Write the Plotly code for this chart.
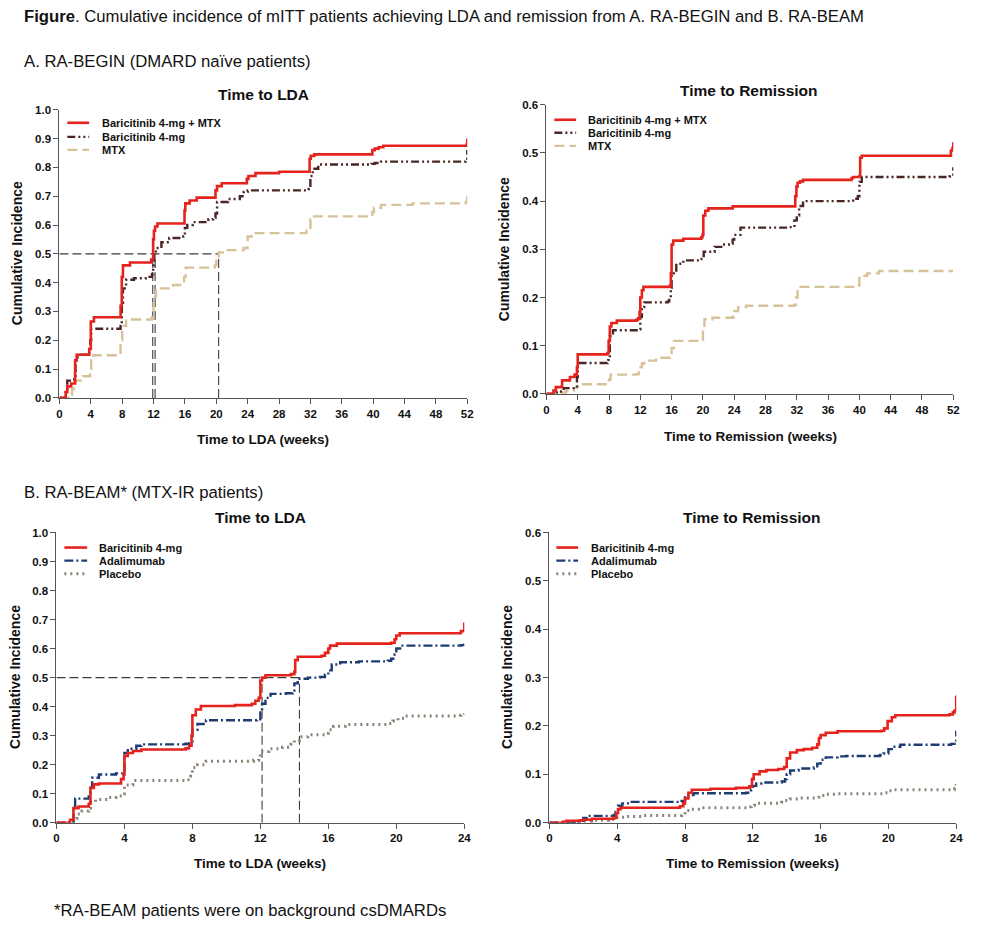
import plotly.graph_objects as go

W, H = 987, 929
FONT = "Liberation Sans"

# ---------------- Data (week, cumulative incidence) ----------------
# A. RA-BEGIN - Time to LDA
a_lda_bari_mtx = [(0,0),(0.8,0.02),(1.0,0.04),(1.5,0.05),(2.0,0.13),(2.2,0.15),(3.8,0.17),(4.0,0.265),(4.4,0.28),
                  (7.8,0.32),(7.95,0.42),(8.1,0.46),(9.0,0.47),(11.7,0.48),(11.95,0.55),(12.05,0.58),(12.2,0.595),(12.5,0.605),
                  (15.95,0.65),(16.05,0.675),(16.6,0.685),(17.5,0.695),(19.9,0.72),(20.1,0.735),(20.7,0.745),(23.9,0.76),
                  (24.1,0.77),(25.0,0.78),(28.0,0.785),(31.9,0.83),(32.05,0.84),(32.5,0.845),(39.9,0.86),(40.2,0.865),
                  (40.7,0.87),(41.3,0.875),(51.95,0.88),(52.0,0.9)]
a_lda_bari = [(0,0),(0.8,0.03),(1.0,0.06),(1.9,0.065),(2.05,0.14),(2.3,0.15),(3.8,0.16),(3.95,0.2),(4.05,0.24),
              (7.8,0.25),(7.95,0.33),(8.1,0.38),(8.5,0.41),(9.5,0.415),(11.0,0.42),(11.8,0.43),(11.95,0.46),(12.1,0.5),
              (12.3,0.52),(13.0,0.54),(14.0,0.555),(15.8,0.56),(16.0,0.59),(16.3,0.6),(17.0,0.61),(19.0,0.62),(19.6,0.625),
              (19.9,0.64),(20.1,0.68),(21.5,0.69),(23.0,0.70),(23.5,0.715),(24.0,0.72),(31.5,0.725),(31.8,0.73),(32.0,0.77),
              (32.3,0.795),(33.0,0.81),(39.8,0.812),(40.2,0.815),(41.0,0.82),(51.8,0.83),(52.0,0.86)]
a_lda_mtx = [(0,0),(1.3,0.01),(1.6,0.03),(1.8,0.05),(2.0,0.06),(3.0,0.075),(3.9,0.1),(4.05,0.13),(4.3,0.148),
             (7.8,0.2),(8.0,0.25),(8.5,0.272),(11.8,0.28),(12.0,0.35),(12.3,0.38),(14.5,0.392),(15.9,0.42),(16.1,0.452),
             (19.8,0.46),(20.0,0.49),(20.3,0.505),(21.0,0.513),(23.5,0.52),(24.0,0.56),(24.5,0.572),(31.5,0.58),
             (31.8,0.59),(32.0,0.62),(32.3,0.63),(39.5,0.635),(39.9,0.645),(40.1,0.66),(41.0,0.67),(45.0,0.675),
             (51.8,0.68),(52.0,0.71)]
a_lda_medians = [11.9, 12.2, 20.3]

# A. RA-BEGIN - Time to Remission
a_rem_bari_mtx = [(0,0),(0.9,0.007),(1.2,0.014),(1.9,0.015),(2.0,0.028),(3.0,0.035),(3.6,0.04),(3.9,0.055),(4.0,0.082),
                  (7.8,0.085),(7.95,0.11),(8.1,0.14),(8.3,0.147),(9.0,0.152),(11.5,0.154),(11.7,0.157),(11.9,0.17),
                  (12.0,0.2),(12.2,0.215),(12.4,0.222),(15.8,0.225),(15.9,0.25),(16.0,0.31),(16.2,0.318),(17.5,0.322),
                  (19.8,0.325),(19.95,0.33),(20.05,0.37),(20.3,0.38),(20.7,0.385),(23.8,0.389),(31.8,0.41),(31.95,0.43),
                  (32.1,0.438),(32.4,0.441),(32.8,0.444),(39.0,0.448),(39.2,0.45),(40.0,0.452),(40.1,0.49),(40.3,0.494),
                  (51.7,0.505),(51.9,0.51),(52.0,0.522)]
a_rem_bari = [(0,0),(1.3,0.003),(1.5,0.005),(2.2,0.012),(3.8,0.013),(3.9,0.035),(4.0,0.064),(7.8,0.066),(7.9,0.07),
              (8.1,0.12),(8.5,0.132),(11.8,0.134),(12.0,0.16),(12.2,0.18),(12.5,0.19),(15.5,0.192),(15.7,0.2),(15.9,0.22),
              (16.0,0.25),(16.6,0.27),(17.5,0.277),(19.5,0.28),(20.1,0.295),(21.5,0.305),(22.5,0.31),(23.5,0.312),
              (23.8,0.32),(24.0,0.33),(24.8,0.345),(31.0,0.346),(31.7,0.36),(32.0,0.37),(32.3,0.39),(32.8,0.4),
              (38.8,0.401),(39.2,0.405),(39.8,0.41),(40.0,0.44),(40.3,0.45),(51.5,0.451),(51.8,0.455),(52.0,0.47)]
a_rem_mtx = [(0,0),(1.8,0.003),(2.5,0.006),(3.5,0.012),(3.9,0.016),(4.05,0.02),(7.8,0.022),(8.0,0.03),(8.2,0.04),
             (11.5,0.041),(11.8,0.045),(12.0,0.055),(12.2,0.063),(12.5,0.069),(14.0,0.075),(15.8,0.078),(16.0,0.095),
             (16.3,0.11),(19.8,0.112),(20.0,0.135),(20.2,0.155),(21.2,0.158),(23.8,0.16),(24.0,0.172),(24.5,0.18),
             (25.5,0.183),(31.7,0.185),(31.9,0.2),(32.1,0.222),(39.8,0.225),(40.0,0.245),(41.0,0.25),(42.5,0.255),
             (52.0,0.255)]

# B. RA-BEAM - Time to LDA
b_lda_bari = [(0,0),(0.8,0.01),(1.0,0.05),(1.3,0.056),(1.9,0.065),(2.0,0.12),(2.2,0.132),(2.5,0.135),(3.8,0.15),
              (3.95,0.165),(4.0,0.23),(4.2,0.24),(4.5,0.247),(5.0,0.252),(7.6,0.256),(7.8,0.265),(7.95,0.3),(8.0,0.37),
              (8.2,0.39),(8.5,0.402),(10.5,0.405),(11.5,0.41),(11.7,0.42),(11.9,0.43),(12.0,0.49),(12.1,0.5),
              (12.3,0.508),(13.8,0.512),(14.0,0.52),(14.05,0.56),(14.2,0.572),(15.6,0.575),(15.8,0.585),(16.0,0.6),
              (16.1,0.61),(16.5,0.617),(19.7,0.62),(19.9,0.632),(20.0,0.645),(20.2,0.653),(23.8,0.66),(24.0,0.69)]
b_lda_ada = [(0,0),(1.0,0.05),(1.1,0.083),(1.9,0.09),(2.0,0.12),(2.1,0.155),(2.5,0.166),(3.5,0.17),(3.9,0.175),
             (4.0,0.24),(4.2,0.255),(4.7,0.265),(5.0,0.27),(7.6,0.272),(7.8,0.28),(8.0,0.32),(8.3,0.34),(8.8,0.353),
             (11.8,0.356),(12.0,0.38),(12.1,0.41),(12.3,0.43),(12.6,0.444),(13.5,0.446),(13.9,0.455),(14.0,0.48),
             (14.2,0.496),(14.8,0.5),(15.5,0.502),(15.8,0.51),(16.0,0.525),(16.2,0.545),(16.7,0.553),(17.8,0.556),
             (19.5,0.558),(19.7,0.565),(19.9,0.58),(20.0,0.6),(20.3,0.61),(23.8,0.612),(24.0,0.621)]
b_lda_pbo = [(0,0),(0.8,0.005),(1.0,0.015),(1.2,0.03),(1.5,0.04),(1.9,0.05),(2.0,0.07),(2.3,0.08),(3.0,0.087),
             (3.5,0.092),(3.9,0.1),(4.0,0.13),(4.5,0.145),(7.6,0.148),(7.9,0.16),(8.0,0.19),(8.3,0.2),(8.8,0.212),
             (11.6,0.215),(11.9,0.222),(12.0,0.245),(12.5,0.255),(13.3,0.26),(13.8,0.27),(14.0,0.283),(14.3,0.296),
             (14.8,0.303),(15.8,0.308),(16.0,0.32),(16.3,0.332),(17.0,0.338),(19.5,0.342),(19.8,0.35),(20.1,0.36),
             (20.5,0.368),(23.5,0.37),(23.8,0.373),(24.0,0.377)]
b_lda_medians = [12.1, 14.3]

# B. RA-BEAM - Time to Remission
b_rem_bari = [(0,0),(0.8,0.002),(1.0,0.004),(1.8,0.005),(2.0,0.006),(2.5,0.008),(3.8,0.01),(3.95,0.02),(4.05,0.028),
              (4.2,0.031),(7.7,0.034),(7.9,0.04),(8.0,0.05),(8.2,0.062),(8.4,0.068),(9.5,0.07),(11.0,0.072),
              (11.8,0.075),(11.95,0.09),(12.05,0.1),(12.4,0.106),(12.8,0.109),(13.5,0.111),(13.85,0.115),(14.0,0.133),
              (14.2,0.145),(14.6,0.15),(15.0,0.152),(15.5,0.155),(15.8,0.162),(15.9,0.175),(16.0,0.181),(16.3,0.186),
              (17.0,0.189),(19.6,0.19),(19.75,0.195),(19.95,0.21),(20.2,0.218),(20.4,0.222),(23.6,0.224),(23.8,0.228),
              (23.9,0.232),(24.0,0.263)]
b_rem_ada = [(0,0),(1.5,0.002),(1.8,0.004),(2.0,0.01),(2.2,0.014),(3.8,0.016),(3.9,0.022),(4.05,0.035),(4.3,0.04),
             (4.7,0.043),(7.8,0.045),(8.0,0.052),(8.2,0.057),(8.5,0.061),(11.6,0.062),(11.9,0.068),(12.0,0.076),
             (12.2,0.081),(12.5,0.083),(13.7,0.085),(13.9,0.09),(14.0,0.1),(14.2,0.108),(14.7,0.112),(15.6,0.114),
             (15.8,0.122),(16.0,0.13),(16.3,0.135),(17.0,0.137),(17.5,0.138),(19.5,0.14),(19.7,0.143),(20.0,0.152),
             (20.2,0.157),(20.7,0.161),(23.7,0.163),(23.9,0.168),(24.0,0.19)]
b_rem_pbo = [(0,0),(1.0,0.001),(2.0,0.003),(2.5,0.005),(3.5,0.007),(3.9,0.008),(4.0,0.011),(4.5,0.013),(5.5,0.015),
             (7.8,0.017),(8.0,0.025),(8.3,0.028),(9.0,0.031),(11.7,0.033),(11.9,0.036),(12.1,0.04),(13.7,0.042),
             (13.9,0.046),(14.2,0.049),(14.7,0.051),(15.7,0.053),(15.9,0.056),(16.3,0.059),(17.0,0.06),(19.8,0.062),
             (20.0,0.066),(20.3,0.068),(23.9,0.07),(24.0,0.08)]

a_names = ["Baricitinib 4-mg + MTX", "Baricitinib 4-mg", "MTX"]
b_names = ["Baricitinib 4-mg", "Adalimumab", "Placebo"]
a_ticks_x = list(range(0, 53, 4))
b_ticks_x = list(range(0, 25, 4))

# ---------------- Styles ----------------
RED = dict(color="#E5231C", width=2.6, dash="solid")
BROWN = dict(color="#4A2626", width=2.4, dash="8px,3px,2px,3px,2px,3px")
TAN = dict(color="#D8C29A", width=2.4, dash="10px,5px")
NAVY = dict(color="#1E3C73", width=2.4, dash="9px,3px,2px,3px")
GRAY = dict(color="#8E8378", width=3.0, dash="2px,4px")
REF = dict(color="#3C3C3C", width=1.1, dash="9px,4px")

# the page photo maps figure y to picture y as  y_pic = 7.7 + 0.983 * y_fig
Y_OFF, Y_SCALE = 7.7, 0.983

def px(x):
    return x / W

def py(y):
    return 1 - ((y - Y_OFF) / Y_SCALE) / H

# panel pixel boxes (target picture coords): (left, right, top, bottom)
boxes = {
    "1": (57, 469, 111, 398),
    "2": (549, 960, 106, 394),
    "3": (54, 466, 532, 821),
    "4": (552, 963, 532, 821),
}

fig = go.Figure()

def add_series(data, line, ax):
    xs = [p[0] for p in data]
    ys = [p[1] for p in data]
    fig.add_trace(go.Scatter(x=xs, y=ys, mode="lines", line=line, line_shape="hv",
                             xaxis="x" + ("" if ax == "1" else ax), yaxis="y" + ("" if ax == "1" else ax),
                             showlegend=False, hoverinfo="skip"))

def add_medians(meds, ax):
    xa = "x" + ("" if ax == "1" else ax)
    ya = "y" + ("" if ax == "1" else ax)
    fig.add_trace(go.Scatter(x=[0, max(meds)], y=[0.5, 0.5], mode="lines", line=REF,
                             xaxis=xa, yaxis=ya, showlegend=False, hoverinfo="skip"))
    for m in meds:
        fig.add_trace(go.Scatter(x=[m, m], y=[0, 0.5], mode="lines", line=REF,
                                 xaxis=xa, yaxis=ya, showlegend=False, hoverinfo="skip"))

add_medians(a_lda_medians, "1")
add_series(a_lda_mtx, TAN, "1")
add_series(a_lda_bari, BROWN, "1")
add_series(a_lda_bari_mtx, RED, "1")

add_series(a_rem_mtx, TAN, "2")
add_series(a_rem_bari, BROWN, "2")
add_series(a_rem_bari_mtx, RED, "2")

add_medians(b_lda_medians, "3")
add_series(b_lda_pbo, GRAY, "3")
add_series(b_lda_ada, NAVY, "3")
add_series(b_lda_bari, RED, "3")

add_series(b_rem_pbo, GRAY, "4")
add_series(b_rem_ada, NAVY, "4")
add_series(b_rem_bari, RED, "4")

axis_common = dict(showline=True, linecolor="#555555", linewidth=1, ticks="outside", ticklen=5,
                   tickcolor="#555555", showgrid=False, zeroline=False,
                   tickfont=dict(family=FONT, size=11.5, color="#111111", weight="bold"))

layout = dict(width=W, height=H, margin=dict(l=0, r=0, t=0, b=0), paper_bgcolor="white",
              plot_bgcolor="white", showlegend=False, font=dict(family=FONT))

specs = {
    "1": (52, a_ticks_x, 1.0),
    "2": (52, a_ticks_x, 0.6),
    "3": (24, b_ticks_x, 1.0),
    "4": (24, b_ticks_x, 0.6),
}
for k, (xmax, xt, ymax) in specs.items():
    l, r, t, b = boxes[k]
    xn = "xaxis" + ("" if k == "1" else k)
    yn = "yaxis" + ("" if k == "1" else k)
    layout[xn] = dict(axis_common, domain=[px(l), px(r)], range=[0, xmax], tickvals=xt,
                      anchor="y" + ("" if k == "1" else k))
    layout[yn] = dict(axis_common, domain=[py(b), py(t)], range=[0, ymax], dtick=0.1, tick0=0,
                      tickformat=".1f", anchor="x" + ("" if k == "1" else k))

fig.update_layout(**layout)

ann = []
def text(x, y, s, size, bold=False, xanchor="left", angle=0, color="#111111"):
    ann.append(dict(x=px(x), y=py(y), xref="paper", yref="paper", text=s, showarrow=False,
                    xanchor=xanchor, yanchor="middle", textangle=angle,
                    font=dict(family=FONT, size=size, color=color, weight="bold" if bold else "normal")))

# Figure captions
text(19, 18, "<b>Figure</b>. Cumulative incidence of mITT patients achieving LDA and remission from A. RA-BEGIN and B. RA-BEAM", 16.7)
text(19, 63, "A. RA-BEGIN (DMARD naïve patients)", 16.7)
text(19, 492, "B. RA-BEAM* (MTX-IR patients)", 16.7)
text(49, 908, "*RA-BEAM patients were on background csDMARDs", 16.7)

# Panel titles
text(263, 96, "Time to LDA", 15.5, True, "center")
text(754, 92, "Time to Remission", 15.5, True, "center")
text(260, 517, "Time to LDA", 15.5, True, "center")
text(757, 517, "Time to Remission", 15.5, True, "center")

# Axis titles
text(263, 439, "Time to LDA (weeks)", 13.5, True, "center")
text(755, 436, "Time to Remission (weeks)", 13.5, True, "center")
text(260, 862, "Time to LDA (weeks)", 13.5, True, "center")
text(757, 862, "Time to Remission (weeks)", 13.5, True, "center")
text(14, 254, "Cumulative Incidence", 14, True, "center", -90)
text(506, 250, "Cumulative Incidence", 14, True, "center", -90)
text(12, 676, "Cumulative Incidence", 14, True, "center", -90)
text(509, 676, "Cumulative Incidence", 14, True, "center", -90)

# Legends (drawn as layout shapes + text)
shapes = []
def legend(x0, x1, xt, rows, names, styles):
    for yy, nm, st in zip(rows, names, styles):
        shapes.append(dict(type="line", xref="paper", yref="paper", x0=px(x0), x1=px(x1), y0=py(yy), y1=py(yy),
                           line=dict(color=st["color"], width=st["width"], dash=st["dash"])))
        text(xt, yy, nm, 11, True)

legend(65, 87, 98, [124, 138, 151], a_names, [RED, BROWN, TAN])
legend(557, 579, 589, [121, 134, 147], a_names, [RED, BROWN, TAN])
legend(62, 85, 95, [547, 560, 573], b_names, [RED, NAVY, GRAY])
legend(559, 581, 592, [547, 560, 573], b_names, [RED, NAVY, GRAY])

fig.update_layout(annotations=ann, shapes=shapes)
post = ("var d=document.documentElement,b=document.body;"
        "d.style.margin='0';d.style.padding='0';d.style.overflow='hidden';"
        "b.style.margin='0';b.style.padding='0';b.style.overflow='hidden';")
fig.write_html("out.html", config={"displayModeBar": False}, post_script=post)
